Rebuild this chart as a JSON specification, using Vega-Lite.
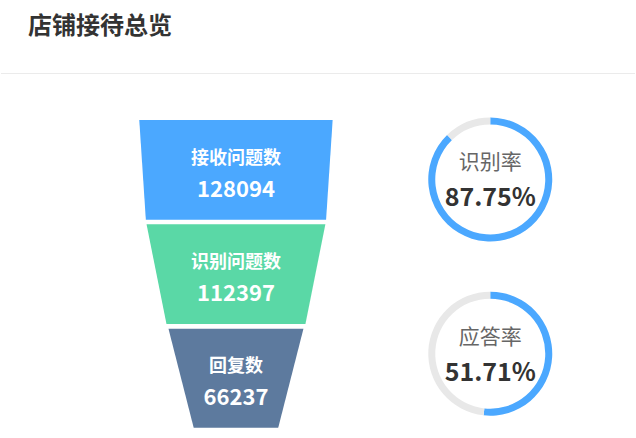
{
  "$schema": "https://vega.github.io/schema/vega-lite/v6.json",
  "width": 636,
  "height": 438,
  "autosize": {"type": "fit", "contains": "padding"},
  "padding": 0,
  "background": "white",
  "view": {"stroke": null},
  "config": {"font": "Noto Sans CJK SC"},
  "datasets": {
    "funnel": [
      {"stage": "接收问题数", "count": 128094, "y": 120, "left": -97, "right": 97},
      {"stage": "接收问题数", "count": 128094, "y": 219.7, "left": -90.4, "right": 90.4},
      {"stage": "识别问题数", "count": 112397, "y": 224.3, "left": -89.7, "right": 89.7},
      {"stage": "识别问题数", "count": 112397, "y": 324, "left": -69.7, "right": 69.7},
      {"stage": "回复数", "count": 66237, "y": 328.7, "left": -67.7, "right": 67.7},
      {"stage": "回复数", "count": 66237, "y": 427.7, "left": -42.4, "right": 42.4}
    ],
    "stageLabels": [
      {"name": "接收问题数", "count": "128094", "ny": 159, "vy": 190},
      {"name": "识别问题数", "count": "112397", "ny": 263, "vy": 294},
      {"name": "回复数", "count": "66237", "ny": 367, "vy": 398}
    ],
    "gauges": [
      {"gauge": "识别率", "part": "done", "order": 1, "pct": 87.75, "cx": 255.1, "cy": 179.5},
      {"gauge": "识别率", "part": "rest", "order": 2, "pct": 12.25, "cx": 255.1, "cy": 179.5},
      {"gauge": "应答率", "part": "done", "order": 1, "pct": 51.71, "cx": 255.1, "cy": 353.7},
      {"gauge": "应答率", "part": "rest", "order": 2, "pct": 48.29, "cx": 255.1, "cy": 353.7}
    ],
    "gaugeLabels": [
      {"name": "识别率", "value": "87.75%", "cx": 255.1, "ny": 163, "vy": 198},
      {"name": "应答率", "value": "51.71%", "cx": 255.1, "ny": 338, "vy": 373}
    ],
    "header": [
      {"title": "店铺接待总览", "tx": -208.5, "ty": 27, "lineY": 73.5}
    ]
  },
  "encoding": {},
  "layer": [
    {
      "data": {"name": "header"},
      "mark": {"type": "rule", "color": "#ebebeb", "strokeWidth": 1},
      "encoding": {
        "y": {"field": "lineY", "type": "quantitative", "scale": {"domain": [0, 438], "reverse": true, "nice": false, "zero": false}, "axis": null}
      }
    },
    {
      "data": {"name": "header"},
      "mark": {"type": "text", "align": "left", "baseline": "middle", "fontSize": 24, "fontWeight": "bold", "color": "#333333"},
      "encoding": {
        "x": {"field": "tx", "type": "quantitative", "scale": {"domain": [-235.7, 400.3], "nice": false, "zero": false}, "axis": null},
        "y": {"field": "ty", "type": "quantitative", "axis": null},
        "text": {"field": "title"}
      }
    },
    {
      "data": {"name": "funnel"},
      "mark": {"type": "area", "orient": "horizontal", "interpolate": "linear"},
      "encoding": {
        "y": {"field": "y", "type": "quantitative", "axis": null},
        "x": {"field": "left", "type": "quantitative", "axis": null},
        "x2": {"field": "right"},
        "color": {
          "field": "stage",
          "type": "nominal",
          "scale": {"domain": ["接收问题数", "识别问题数", "回复数"], "range": ["#4ba8ff", "#5ad8a6", "#5d7a9e"]},
          "legend": null
        },
        "detail": {"field": "stage"}
      }
    },
    {
      "data": {"name": "stageLabels"},
      "mark": {"type": "text", "align": "center", "baseline": "middle", "fontSize": 18, "fontWeight": "bold", "color": "#ffffff"},
      "encoding": {
        "x": {"datum": 0, "type": "quantitative"},
        "y": {"field": "ny", "type": "quantitative"},
        "text": {"field": "name"}
      }
    },
    {
      "data": {"name": "stageLabels"},
      "mark": {"type": "text", "align": "center", "baseline": "middle", "fontSize": 22, "fontWeight": "bold", "color": "#ffffff"},
      "encoding": {
        "x": {"datum": 0, "type": "quantitative"},
        "y": {"field": "vy", "type": "quantitative"},
        "text": {"field": "count"}
      }
    },
    {
      "data": {"name": "gauges"},
      "transform": [
        {"stack": "pct", "groupby": ["gauge"], "sort": [{"field": "order", "order": "ascending"}], "as": ["t0", "t1"]}
      ],
      "mark": {"type": "arc", "outerRadius": 62, "innerRadius": 55},
      "encoding": {
        "x": {"field": "cx", "type": "quantitative"},
        "y": {"field": "cy", "type": "quantitative"},
        "theta": {"field": "t0", "type": "quantitative", "scale": {"domain": [0, 100]}},
        "theta2": {"field": "t1"},
        "fill": {
          "field": "part",
          "type": "nominal",
          "scale": {"domain": ["done", "rest"], "range": ["#4ba8ff", "#e8e8e8"]},
          "legend": null
        }
      }
    },
    {
      "data": {"name": "gaugeLabels"},
      "mark": {"type": "text", "align": "center", "baseline": "middle", "fontSize": 21, "color": "#666666"},
      "encoding": {
        "x": {"field": "cx", "type": "quantitative"},
        "y": {"field": "ny", "type": "quantitative"},
        "text": {"field": "name"}
      }
    },
    {
      "data": {"name": "gaugeLabels"},
      "mark": {"type": "text", "align": "center", "baseline": "middle", "fontSize": 25, "fontWeight": "bold", "color": "#333333"},
      "encoding": {
        "x": {"field": "cx", "type": "quantitative"},
        "y": {"field": "vy", "type": "quantitative"},
        "text": {"field": "value"}
      }
    }
  ]
}
